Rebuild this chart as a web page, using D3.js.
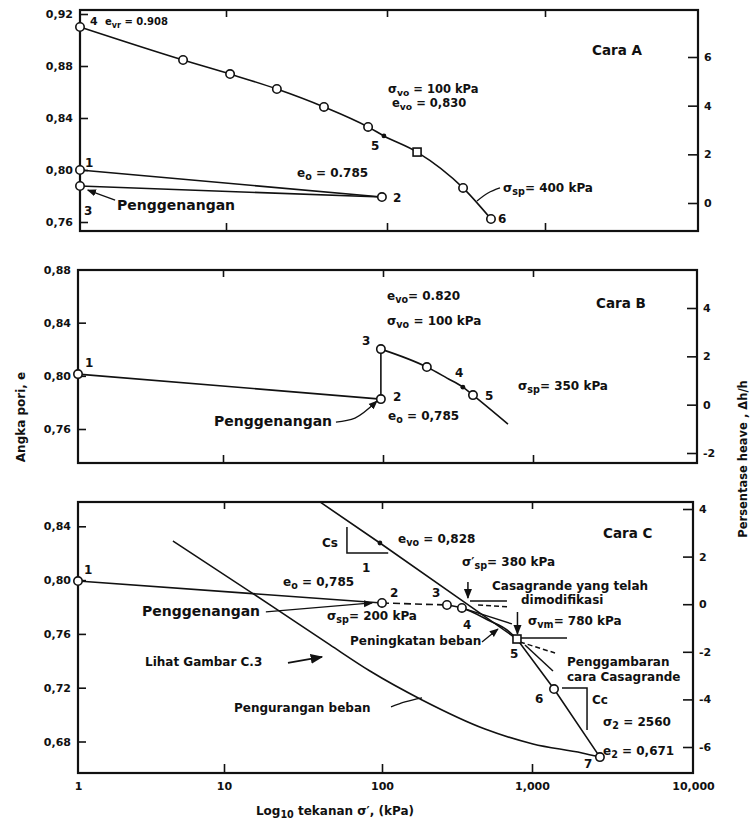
<!DOCTYPE html>
<html><head><meta charset="utf-8">
<script src="https://cdn.jsdelivr.net/npm/d3@7"></script>
<style>
body{margin:0;background:#fff}
svg text{font-family:"DejaVu Sans",sans-serif;font-weight:bold;fill:#111}
.tick text{font-size:11px;font-family:"DejaVu Sans",sans-serif;font-weight:bold;fill:#111}
.tick line{stroke:#111;stroke-width:1.6}
</style></head><body>
<svg id="c" width="754" height="827"></svg>
<script>
// ---------- axis ticks ----------
const xTickValues=[1,10,100,1000,10000];
const xTickLabels=["1","10","100","1,000","10,000"];
const innerDecades=[10,100,1000];
const eTicksA=[0.76,0.80,0.84,0.88,0.92];
const heaveTicksA=[0,2,4,6];
const eTicksB=[0.76,0.80,0.84,0.88];
const heaveTicksB=[-2,0,2,4];
const eTicksC=[0.68,0.72,0.76,0.80,0.84];
const heaveTicksC=[-6,-4,-2,0,2,4];

// ---------- Cara A ----------
const aCurveSigma=[1,5.08,10.6,20.7,40.6,76.3,95.7,155,303,455];
const aCurveE=[0.910,0.8846,0.8738,0.8623,0.8485,0.8331,0.8262,0.8138,0.7862,0.7623];
const aCurveMark=["o","o","o","o","o","o","dot","sq","o","o"];
const aLine12Sigma=[1,93], aLine12E=[0.800,0.7792];
const aLine32Sigma=[1,93], aLine32E=[0.7877,0.7792];
const aLeaderPengSigma=[1.74,1.13], aLeaderPengE=[0.7769,0.7846];
const aLeaderSpSigma=[371,436,519], aLeaderSpE=[0.7762,0.7823,0.7862];

// ---------- Cara B ----------
const bLine12Sigma=[1,97], bLine12E=[0.8013,0.7825];
const bRiseSigma=[97,97], bRiseE=[0.7825,0.8201];
const bCurveSigma=[97,196,267,341,398,681];
const bCurveE=[0.8201,0.8066,0.7983,0.7915,0.7855,0.7637];
const bMarkSigma=[1,97,97,196,341,398];
const bMarkE=[0.8013,0.7825,0.8201,0.8066,0.7915,0.7855];
const bMarkType=["o","o","o","o","dot","o"];
const bLeaderSigma=[50.8,66.8,91.7], bLeaderE=[0.7652,0.7682,0.781];

// ---------- Cara C ----------
const cLine12Sigma=[1,100], cLine12E=[0.7993,0.783];
const cDash23Sigma=[100,271], cDash23E=[0.783,0.7815];
const cLoadSigma=[271,341,525,681,794], cLoadE=[0.7815,0.7793,0.7696,0.7629,0.7562];
const cVirginSigma=[40.5,97,794,1370,2642], cVirginE=[0.8581,0.8276,0.7562,0.719,0.6684];
const cUnloadSigma=[4.47,20.1,46.9,83.9,185,486,1014,2046,2642];
const cUnloadE=[0.8291,0.7807,0.7518,0.7324,0.7109,0.6893,0.6782,0.6715,0.6684];
const cMarkSigma=[1,100,271,341,794,1370,2642,97];
const cMarkE=[0.7993,0.783,0.7815,0.7793,0.7562,0.719,0.6684,0.8276];
const cMarkType=["o","o","o","o","sq","o","o","dot"];
const cCsSigma=[60,60,110], cCsE=[0.8395,0.8201,0.8201];
const cCcSigma=[1535,2197,2197], cCcE=[0.7198,0.7198,0.6886];
const cArrowSpSigma=[374,374], cArrowSpE=[0.7986,0.7867];
const cArrowVmSigma=[800,800], cArrowVmE=[0.7763,0.7599];
const cVmHorizSigma=[770,1650], cVmHorizE=[0.7569,0.7569];
const cCasaDashSigma=[832,1390], cCasaDashE=[0.754,0.7458];
const cCasaSolidSigma=[898,1350], cCasaSolidE=[0.7518,0.7324];
const cHorizSigma=[386,681], cHorizE=[0.7845,0.7845];
const cBisectSigma=[437,713], cBisectE=[0.7815,0.780];
const cTangentSigma=[341,735], cTangentE=[0.7793,0.7674];
const cLeaderPengSigma=[18.4,86.5], cLeaderPengE=[0.7763,0.783];
const cLeaderLoadSigma=[464,593], cLeaderLoadE=[0.754,0.7636];
const cLeaderUnloadSigma=[114.8,142.3,185], cLeaderUnloadE=[0.7058,0.7095,0.7125];
const cLihatSigma=[25.4,41.7], cLihatE=[0.7385,0.7429];

// ---------- drawing ----------
const svg=d3.select("#c");
const defs=svg.append("defs");
defs.append("marker").attr("id","arr").attr("viewBox","0 0 10 10").attr("refX",9).attr("refY",5)
  .attr("markerWidth",7).attr("markerHeight",7).attr("orient","auto-start-reverse")
  .append("path").attr("d","M0,1 L10,5 L0,9 z").attr("fill","#111");

const panels=[
 {L:80,R:698,top:10,bottom:231,
  x:d3.scaleLog().domain(xTickValues).range([80,226,387,545,698]),
  e:d3.scaleLinear().domain([0.76,0.92]).range([222,14]),
  h:d3.scaleLinear().domain([0,6]).range([203,57]),eT:eTicksA,hT:heaveTicksA},
 {L:78,R:697,top:270,bottom:463,
  x:d3.scaleLog().domain(xTickValues).range([78,223,383,533,697]),
  e:d3.scaleLinear().domain([0.76,0.88]).range([429,269.5]),
  h:d3.scaleLinear().domain([-2,4]).range([453,308]),eT:eTicksB,hT:heaveTicksB},
 {L:78,R:693,top:502,bottom:773,
  x:d3.scaleLog().domain(xTickValues).range([78,224,382,532,693]),
  e:d3.scaleLinear().domain([0.68,0.84]).range([741.5,526.3]),
  h:d3.scaleLinear().domain([-6,4]).range([747,509]),eT:eTicksC,hT:heaveTicksC}
];
const fmtE=d=>d.toFixed(2).replace(".",",");
const fmtH=d=>d<0?"-"+(-d):String(d);

panels.forEach((p,i)=>{
  defs.append("clipPath").attr("id","clip"+i).append("rect").attr("x",p.L).attr("y",p.top).attr("width",p.R-p.L).attr("height",p.bottom-p.top);
  const gl=svg.append("g").attr("transform",`translate(${p.L},0)`).call(d3.axisLeft(p.e).tickValues(p.eT).tickSize(-8).tickPadding(7).tickFormat(fmtE));
  const gr=svg.append("g").attr("transform",`translate(${p.R},0)`).call(d3.axisRight(p.h).tickValues(p.hT).tickSize(-10).tickPadding(6).tickFormat(fmtH));
  const gt=svg.append("g").attr("transform",`translate(0,${p.top})`).call(d3.axisTop(p.x).tickValues(innerDecades).tickSize(-7).tickFormat(""));
  const gb=svg.append("g").attr("transform",`translate(0,${p.bottom})`).call(d3.axisBottom(p.x).tickValues(innerDecades).tickSize(i==2?-9:-8).tickFormat(""));
  [gl,gr,gt,gb].forEach(g=>g.select(".domain").remove());
  svg.append("rect").attr("x",p.L).attr("y",p.top).attr("width",p.R-p.L).attr("height",p.bottom-p.top)
    .attr("fill","none").attr("stroke","#111").attr("stroke-width",2.2);
});
// x labels under bottom panel
const gx=svg.append("g").attr("transform",`translate(0,${panels[2].bottom})`)
  .call(d3.axisBottom(panels[2].x).tickValues(xTickValues).tickSize(0).tickPadding(9).tickFormat((d,i)=>xTickLabels[i]));
gx.select(".domain").remove();

function path(p,sig,e,opts={}){
  const ln=d3.line().x(d=>p.x(d[0])).y(d=>p.e(d[1]));
  if(opts.curve) ln.curve(opts.curve);
  const el=svg.append("path").attr("d",ln(d3.zip(sig,e))).attr("fill","none").attr("stroke","#111")
    .attr("stroke-width",opts.w||1.6);
  if(opts.dash) el.attr("stroke-dasharray",opts.dash);
  if(opts.arrow) el.attr("marker-end","url(#arr)");
  if(opts.clip!==undefined) el.attr("clip-path",`url(#clip${opts.clip})`);
  return el;
}
function marks(p,sig,e,types){
  d3.zip(sig,e,types).forEach(([s,v,t])=>{
    const cx=p.x(s),cy=p.e(v);
    if(t==="o") svg.append("circle").attr("cx",cx).attr("cy",cy).attr("r",4.2).attr("fill","#fff").attr("stroke","#111").attr("stroke-width",1.6);
    else if(t==="sq") svg.append("rect").attr("x",cx-4).attr("y",cy-4).attr("width",8).attr("height",8).attr("fill","#fff").attr("stroke","#111").attr("stroke-width",1.6);
    else svg.append("circle").attr("cx",cx).attr("cy",cy).attr("r",2.4).attr("fill","#111");
  });
}
function txt(x0,y0,segs,size=12,anchor="start"){
  const t=svg.append("text").attr("x",x0).attr("y",y0).attr("font-size",size).attr("text-anchor",anchor);
  let shift=0;
  segs.forEach(s=>{
    if(typeof s==="string"){t.append("tspan").attr("dy",-shift).text(s);shift=0;}
    else{const d=s.sub!==undefined?0.28*size:-0.4*size;
      t.append("tspan").attr("dy",d-shift).attr("font-size",size*0.8).text(s.sub!==undefined?s.sub:s.sup);shift=d;}
  });
  return t;
}

// ----- Cara A -----
const pA=panels[0];
path(pA,aCurveSigma,aCurveE,{curve:d3.curveMonotoneX});
path(pA,aLine12Sigma,aLine12E);
path(pA,aLine32Sigma,aLine32E);
path(pA,aLeaderPengSigma,aLeaderPengE,{w:1.3,arrow:true});
path(pA,aLeaderSpSigma,aLeaderSpE,{w:1.3,curve:d3.curveMonotoneX});
marks(pA,aCurveSigma,aCurveE,aCurveMark);
marks(pA,[1,1,93],[aLine12E[0],aLine32E[0],aLine12E[1]],["o","o","o"]);
txt(90,25,["4"],11);
txt(105,25,["e",{sub:"vr"}," = 0.908"],10);
txt(85,167,["1"],12);
txt(84,215,["3"],12);
txt(117,210,["Penggenangan"],14);
txt(297,177,["e",{sub:"o"}," = 0.785"],12);
txt(393,202,["2"],12);
txt(371,150,["5"],12);
txt(498,223,["6"],12);
txt(592,55,["Cara A"],13.5);
txt(388,93,["σ",{sub:"vo"}," = 100 kPa"],11.5);
txt(392,107,["e",{sub:"vo"}," = 0,830"],11.5);
txt(503,192,["σ",{sub:"sp"},"= 400 kPa"],12);

// ----- Cara B -----
const pB=panels[1];
path(pB,bLine12Sigma,bLine12E);
path(pB,bRiseSigma,bRiseE);
path(pB,bCurveSigma,bCurveE,{curve:d3.curveMonotoneX});
path(pB,bLeaderSigma,bLeaderE,{w:1.3,arrow:true,curve:d3.curveMonotoneX});
marks(pB,bMarkSigma,bMarkE,bMarkType);
txt(85,367,["1"],12);
txt(362,345,["3"],12);
txt(393,401,["2"],12);
txt(455,377,["4"],12);
txt(485,400,["5"],12);
txt(387,300,["e",{sub:"vo"},"= 0.820"],12);
txt(387,325,["σ",{sub:"vo"}," = 100 kPa"],12);
txt(388,420,["e",{sub:"o"}," = 0,785"],12);
txt(596,308,["Cara B"],13.5);
txt(518,390,["σ",{sub:"sp"},"= 350 kPa"],12);
txt(214,426,["Penggenangan"],14);

// ----- Cara C -----
const pC=panels[2];
path(pC,cUnloadSigma,cUnloadE,{curve:d3.curveMonotoneX});
path(pC,cVirginSigma,cVirginE,{clip:2});
path(pC,cLine12Sigma,cLine12E);
path(pC,cDash23Sigma,cDash23E,{dash:"7,4"});
path(pC,cLoadSigma,cLoadE,{curve:d3.curveMonotoneX});
path(pC,cCsSigma,cCsE,{w:1.5});
path(pC,cCcSigma,cCcE,{w:1.5});
path(pC,cArrowSpSigma,cArrowSpE,{w:1.5,arrow:true});
path(pC,cArrowVmSigma,cArrowVmE,{w:1.5,arrow:true});
path(pC,cVmHorizSigma,cVmHorizE,{w:1.5});
path(pC,cCasaDashSigma,cCasaDashE,{w:1.5,dash:"5,3"});
path(pC,cCasaSolidSigma,cCasaSolidE,{w:1.5});
path(pC,cHorizSigma,cHorizE,{w:1.4});
path(pC,cBisectSigma,cBisectE,{w:1.4,dash:"5,3"});
path(pC,cTangentSigma,cTangentE,{w:1.4});
path(pC,cLeaderPengSigma,cLeaderPengE,{w:1.3,arrow:true});
path(pC,cLeaderLoadSigma,cLeaderLoadE,{w:1.3,arrow:true});
path(pC,cLeaderUnloadSigma,cLeaderUnloadE,{w:1.3,curve:d3.curveMonotoneX});
path(pC,cLihatSigma,cLihatE,{w:1.8,arrow:true});
marks(pC,cMarkSigma,cMarkE,cMarkType);
txt(84,574,["1"],12);
txt(390,597,["2"],12);
txt(432,597,["3"],12);
txt(463,629,["4"],12);
txt(510,658,["5"],12);
txt(535,703,["6"],12);
txt(584,768,["7"],12);
txt(322,547,["Cs"],12);
txt(362,572,["1"],12);
txt(398,543,["e",{sub:"vo"}," = 0,828"],12);
txt(462,566,["σ′",{sub:"sp"},"= 380 kPa"],12);
txt(283,586,["e",{sub:"o"}," = 0,785"],12);
txt(142,616,["Penggenangan"],14);
txt(327,620,["σ",{sub:"sp"},"= 200 kPa"],12);
txt(350,645,["Peningkatan beban"],12);
txt(492,590,["Casagrande yang telah"],12);
txt(521,604,["dimodifikasi"],12);
txt(528,625,["σ",{sub:"vm"},"= 780 kPa"],12);
txt(567,666,["Penggambaran"],12);
txt(567,681,["cara Casagrande"],12);
txt(592,704,["Cc"],12);
txt(603,726,["σ",{sub:"2"}," = 2560"],12);
txt(603,755,["e",{sub:"2"}," = 0,671"],12);
txt(603,538,["Cara C"],13.5);
txt(145,666,["Lihat Gambar C.3"],12);
txt(234,712,["Pengurangan beban"],12);

// ----- axis titles -----
txt(335,815,["Log",{sub:"10"}," tekanan σ′, (kPa)"],12,"middle");
svg.append("text").attr("transform","translate(25,417) rotate(-90)").attr("text-anchor","middle").attr("font-size",12).text("Angka pori, e");
svg.append("text").attr("transform","translate(747,459) rotate(-90)").attr("text-anchor","middle").attr("font-size",11.5).text("Persentase heave , Δh/h");
</script>
</body></html>
